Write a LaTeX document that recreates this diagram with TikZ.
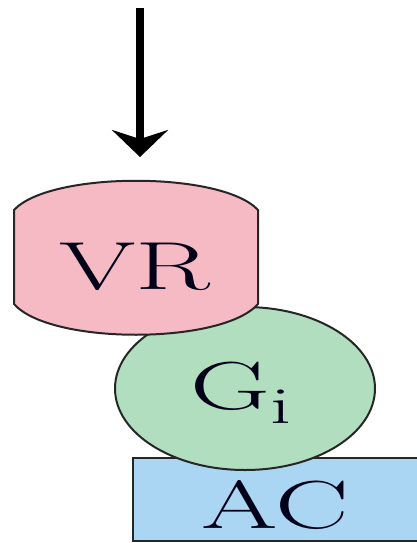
\documentclass[tikz,border=0pt]{standalone}
\usepackage{graphicx}
\usetikzlibrary{arrows.meta,shapes.geometric}
\definecolor{vrpink}{RGB}{246,186,196}
\definecolor{gigreen}{RGB}{178,222,192}
\definecolor{acblue}{RGB}{170,214,243}
\tikzset{
  shapeline/.style={draw=black!85, line width=2pt},
  lbl/.style={inner sep=0pt, anchor=base, font=\fontsize{68}{70}\selectfont, text=black!90!blue},
}
\begin{document}
\begin{tikzpicture}[x=1pt,y=-1pt]
\useasboundingbox (0,0) rectangle (417,543);
% AC box
\draw[shapeline, fill=acblue] (133,458) rectangle (430,541);
% Gi ellipse
\node[shapeline, fill=gigreen, ellipse, minimum width=260pt, minimum height=163pt, inner sep=0pt] (gi) at (245,388.5) {};
% VR shape
\draw[shapeline, fill=vrpink] (14,210) .. controls (50,171) and (222,171) .. (258,210)
  -- (258,304) .. controls (222,345) and (50,345) .. (14,304) -- cycle;
% labels
\node[lbl] (vr) at (135,289) {\scalebox{1.62}[1]{VR}};
\node[lbl] (gitext) at (241,409) {\scalebox{1.62}[1]{G\raisebox{-14pt}{\fontsize{52}{52}\selectfont i}}};
\node[lbl] (ac) at (275,528) {\scalebox{1.62}[1]{AC}};
% arrow
\coordinate (start) at (140,8);
\coordinate (tip) at (140,157);
\draw[line width=8pt, -{Stealth[length=27pt, width=56pt, inset=9pt]}] (start) -- (tip);
\end{tikzpicture}
\end{document}
